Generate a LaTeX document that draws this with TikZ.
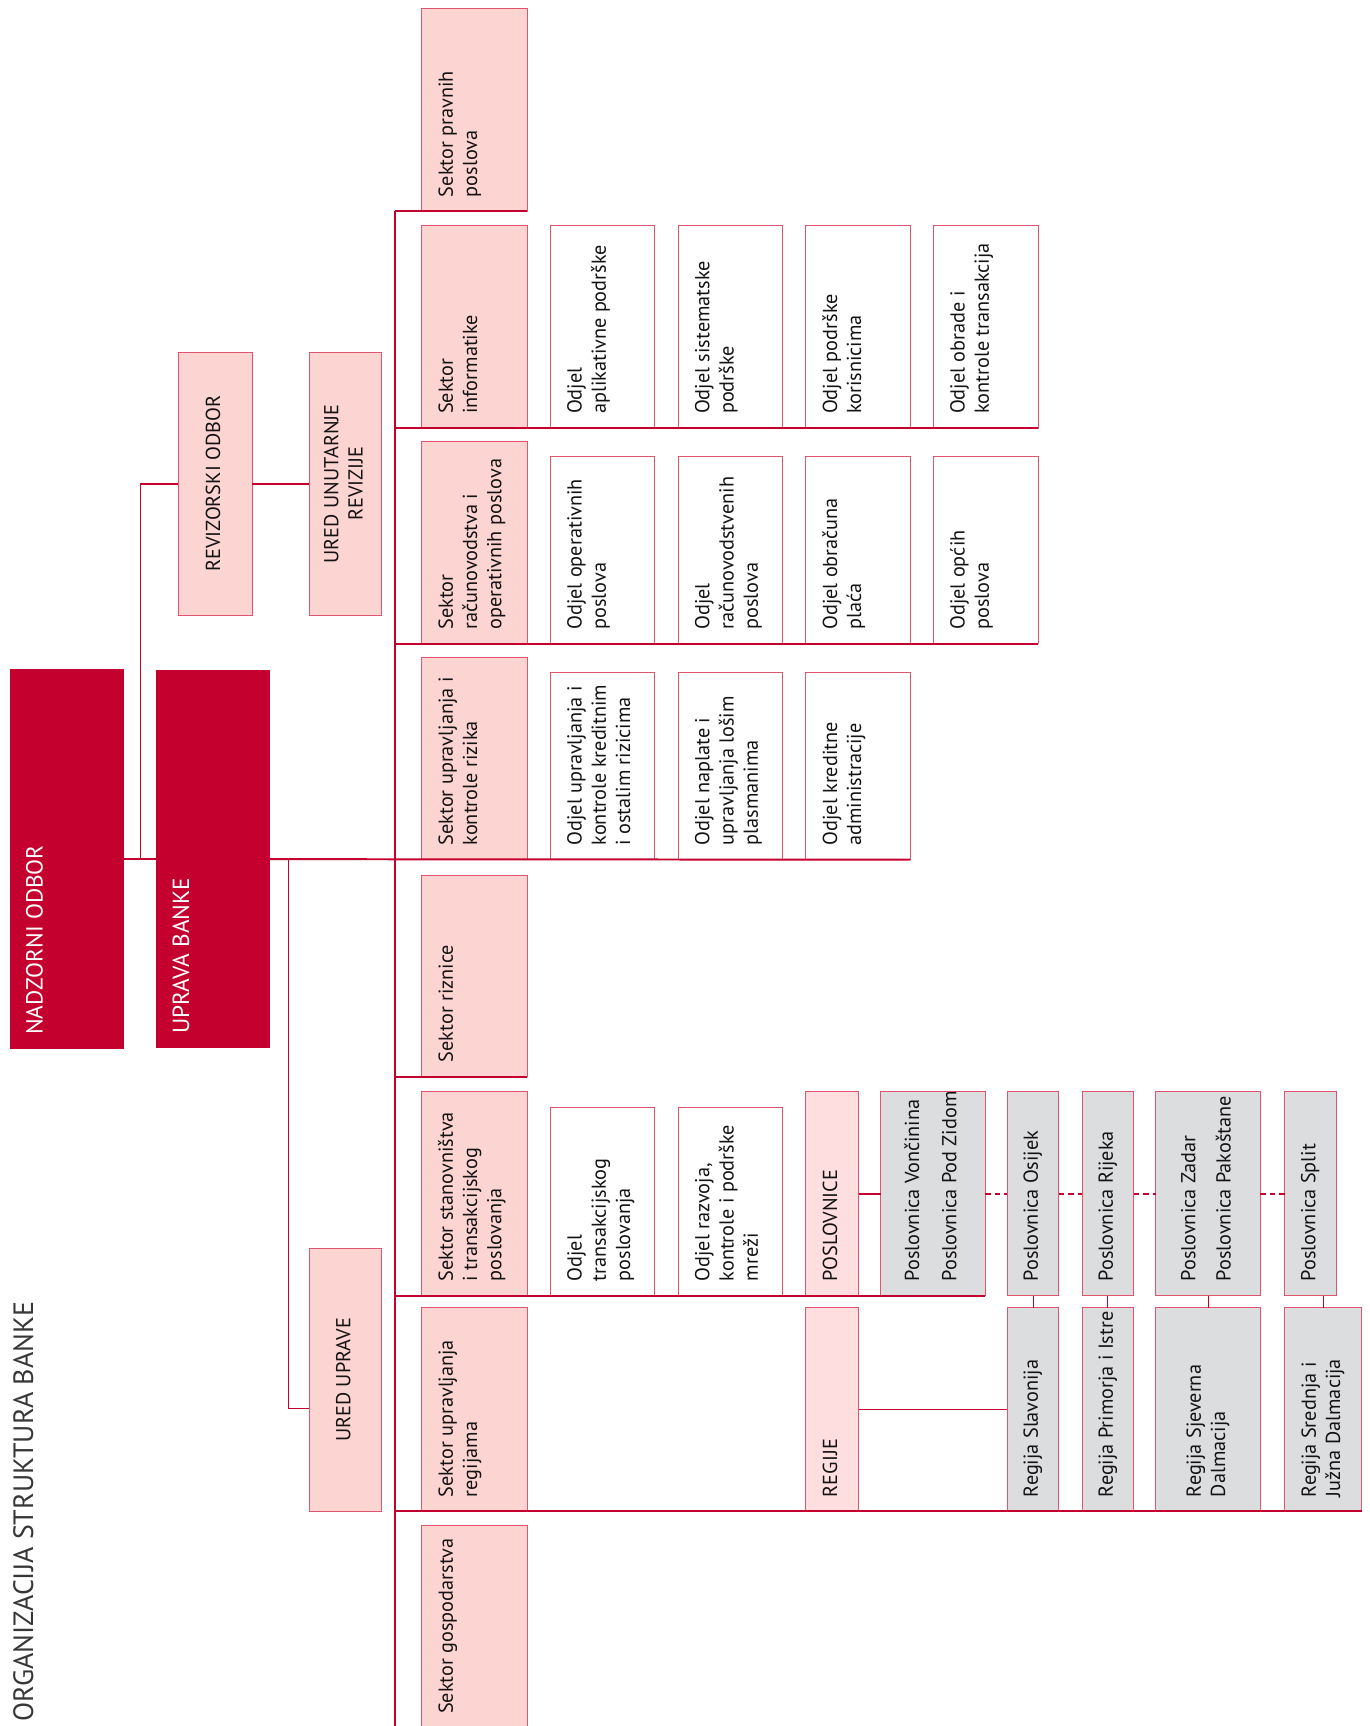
\documentclass[tikz,border=0pt]{standalone}
\usepackage{fontspec}
\setmainfont{PT Sans}
\usepackage{graphicx}
\usepackage{tikz}
\usetikzlibrary{calc}

\definecolor{bankred}{RGB}{196,0,46}
\definecolor{sekpink}{RGB}{252,213,211}
\definecolor{lightpink}{RGB}{254,222,223}
\definecolor{branchgray}{RGB}{220,221,223}
\definecolor{edgered}{RGB}{224,84,110}
\definecolor{inktext}{RGB}{20,18,18}
\definecolor{titlegray}{RGB}{55,55,55}

\newcommand\boxpad{6.5}
\newcommand\orgbox[8][t]{%
  \pgfmathsetmacro\bw{(#6-#4)/2}%
  \pgfmathsetmacro\bh{(#7-#5)/2}%
  \pgfmathsetmacro\tw{\bh-2*\boxpad}%
  \pgfmathsetmacro\th{\bw-2*\boxpad}%
  \node[#2,minimum width=\bw pt,minimum height=\bh pt] (#3) at ({(#4+#6)/2},{(#5+#7)/2})
    {\rotatebox{90}{\parbox[c][\th pt][#1]{\tw pt}{\raggedright\begin{tabular}{@{}l@{}}#8\end{tabular}}}};}
\newcommand\orgboxc[7]{%
  \pgfmathsetmacro\bw{(#5-#3)/2}%
  \pgfmathsetmacro\bh{(#6-#4)/2}%
  \pgfmathsetmacro\tw{\bh-2*\boxpad}%
  \pgfmathsetmacro\th{\bw-2*\boxpad}%
  \node[#1,minimum width=\bw pt,minimum height=\bh pt] (#2) at ({(#3+#5)/2},{(#4+#6)/2})
    {\rotatebox{90}{\parbox[c][\th pt][c]{\tw pt}{\centering\begin{tabular}{@{}c@{}}#7\end{tabular}}}};}

\begin{document}
\begin{tikzpicture}[x=0.5pt,y=-0.5pt,
  orgnode/.style={inner sep=0pt,outer sep=0pt,font=\fontsize{9.2}{11}\selectfont,text=inktext},
  topbox/.style={orgnode,fill=bankred,text=white,font=\fontsize{10.6}{12}\selectfont},
  sekbox/.style={orgnode,fill=sekpink,draw=edgered,line width=0.45pt},
  odjbox/.style={orgnode,fill=white,draw=edgered,line width=0.45pt},
  grpbox/.style={orgnode,fill=lightpink,draw=edgered,line width=0.45pt},
  brbox/.style={orgnode,fill=branchgray,draw=edgered,line width=0.45pt},
  link/.style={draw=bankred,line width=0.7pt},
  rowline/.style={draw=bankred,line width=0.9pt},
  dashlink/.style={link,dash pattern=on 2.5pt off 1.8pt}]
\useasboundingbox (0,0) rectangle (1244,1568);

\node[rotate=90,anchor=base east,inner sep=0pt,font=\fontsize{12.7}{15}\selectfont,text=titlegray] (title) at (30,1182) {ORGANIZACIJA STRUKTURA BANKE};

\orgbox{topbox}{nadzor}{9}{608}{113}{953}{NADZORNI ODBOR}
\orgbox{topbox}{uprava}{142}{609}{245}{952}{UPRAVA\ BANKE}
\orgboxc{sekbox}{revodb}{162}{320}{229}{559}{REVIZORSKI ODBOR}
\orgboxc{sekbox}{unurev}{281}{320}{347}{559}{URED UNUTARNJE\\REVIZIJE}
\orgboxc{sekbox}{uredupr}{281}{1134}{347}{1373}{URED UPRAVE}

\orgbox{sekbox}{s_prav}{383}{8}{479}{192}{Sektor pravnih\\poslova}
\orgbox{sekbox}{s_info}{383}{205}{479}{389}{Sektor\\informatike}
\orgbox{sekbox}{s_racu}{383}{401}{479}{585}{Sektor\\računovodstva i\\operativnih poslova}
\orgbox{sekbox}{s_rizi}{383}{597}{479}{781}{Sektor upravljanja i\\kontrole rizika}
\orgbox{sekbox}{s_rizn}{383}{795}{479}{978}{Sektor riznice}
\orgbox{sekbox}{s_stan}{383}{992}{479}{1177}{Sektor stanovništva\\i transakcijskog\\poslovanja}
\orgbox{sekbox}{s_regi}{383}{1188}{479}{1373}{Sektor upravljanja\\regijama}
\orgbox{sekbox}{s_gosp}{383}{1386}{479}{1570}{Sektor gospodarstva}

\orgbox{odjbox}{o_apl}{500}{205}{595}{389}{Odjel\\aplikativne podrške}
\orgbox{odjbox}{o_sis}{616}{205}{711}{389}{Odjel sistematske\\podrške}
\orgbox{odjbox}{o_kor}{732}{205}{827}{389}{Odjel podrške\\korisnicima}
\orgbox{odjbox}{o_trk}{848}{205}{943}{389}{Odjel obrade i\\kontrole transakcija}

\orgbox{odjbox}{o_ope}{500}{415}{595}{585}{Odjel operativnih\\poslova}
\orgbox{odjbox}{o_rac}{616}{415}{711}{585}{Odjel\\računovodstvenih\\poslova}
\orgbox{odjbox}{o_obr}{732}{415}{827}{585}{Odjel obračuna\\plaća}
\orgbox{odjbox}{o_opc}{848}{415}{943}{585}{Odjel općih\\poslova}

\orgbox{odjbox}{o_upr}{500}{611}{595}{781}{Odjel upravljanja i\\kontrole kreditnim\\i ostalim rizicima}
\orgbox{odjbox}{o_nap}{616}{611}{711}{781}{Odjel naplate i\\upravljanja lošim\\plasmanima}
\orgbox{odjbox}{o_kre}{732}{611}{827}{781}{Odjel kreditne\\administracije}

\orgbox{odjbox}{o_tra}{500}{1006}{595}{1177}{Odjel\\transakcijskog\\poslovanja}
\orgbox{odjbox}{o_raz}{616}{1006}{711}{1177}{Odjel razvoja,\\kontrole i podrške\\mreži}

\orgbox{grpbox}{posl}{732}{992}{780}{1177}{POSLOVNICE}
\orgbox[c]{brbox}{p_von}{800}{992}{895}{1177}{Poslovnica Vončinina\\[6pt]Poslovnica Pod Zidom}
\orgbox[c]{brbox}{p_osi}{915}{992}{962}{1177}{Poslovnica Osijek}
\orgbox[c]{brbox}{p_rij}{983}{992}{1030}{1177}{Poslovnica Rijeka}
\orgbox[c]{brbox}{p_zad}{1050}{992}{1145}{1177}{Poslovnica Zadar\\[5pt]Poslovnica Pakoštane}
\orgbox[c]{brbox}{p_spl}{1167}{992}{1214}{1177}{Poslovnica Split}

\orgbox{grpbox}{regi}{732}{1188}{780}{1373}{REGIJE}
\orgbox[c]{brbox}{r_sla}{915}{1188}{962}{1373}{Regija Slavonija}
\orgbox[c]{brbox}{r_pri}{983}{1188}{1030}{1373}{Regija Primorja i Istre}
\orgbox[c]{brbox}{r_sje}{1050}{1188}{1145}{1373}{Regija Sjeverna\\Dalmacija}
\orgbox[c]{brbox}{r_sre}{1167}{1188}{1237}{1373}{Regija Srednja i\\Južna Dalmacija}

\coordinate (spine_top) at (s_prav.south west -| 359,0);
\coordinate (spine_bot) at (359,1600);
\coordinate (nb) at ($(nadzor.east)!0.5!(uprava.west)$);
\coordinate (ub) at ($(uprava.east)!0.15!(spine_top |- uprava.east)$);

\draw[rowline] (spine_top) -- (spine_bot);
\draw[rowline] (spine_top) -- (s_prav.south east);
\draw[rowline] (spine_top |- s_info.south) -- (o_trk.south east);
\draw[rowline] (spine_top |- s_racu.south) -- (o_opc.south east);
\draw[rowline] (nadzor) -- (uprava);
\draw[rowline] (uprava.east) -- (o_kre.south east);
\draw[rowline] (spine_top |- s_rizn.south) -- (s_rizn.south east);
\draw[rowline] (spine_top |- s_stan.south) -- (p_von.south east);
\draw[rowline] (spine_top |- s_regi.south) -- (r_sre.south east);

\draw[link] (nb) |- (revodb.west);
\draw[link] (revodb) -- (unurev);
\draw[link] (ub) |- ($(uredupr.west)+(0,26)$);

\draw[link] (posl) -- (p_von);
\draw[dashlink] (p_von) -- (p_osi);
\draw[dashlink] (p_osi) -- (p_rij);
\draw[dashlink] (p_rij) -- (p_zad);
\draw[dashlink] (p_zad) -- (p_spl);
\draw[link] (regi) -- (r_sla);
\foreach \p/\r in {p_osi/r_sla,p_rij/r_pri,p_zad/r_sje,p_spl/r_sre}
  \draw[link,line width=0.45pt] (\r.north) -- (\r.north |- \p.south);
\end{tikzpicture}
\end{document}
